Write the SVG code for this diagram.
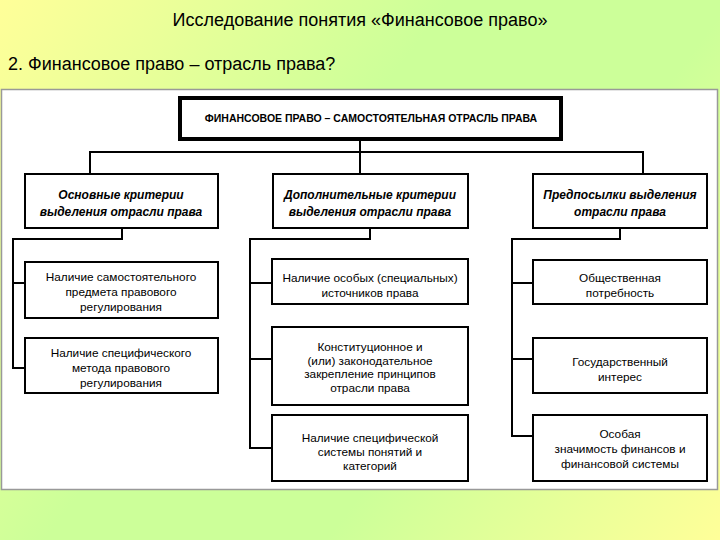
<svg xmlns="http://www.w3.org/2000/svg" width="720" height="540" viewBox="0 0 720 540">
<defs>
<linearGradient id="bg" gradientUnits="userSpaceOnUse" x1="0" y1="0" x2="720" y2="540">
<stop offset="0" stop-color="#ffff99"/>
<stop offset="0.4" stop-color="#ccff99"/>
<stop offset="0.65" stop-color="#ccff99"/>
<stop offset="1" stop-color="#ffff99"/>
</linearGradient>
<style>
.t{font-family:"Liberation Sans",Arial,sans-serif;fill:#000}
.title{font-size:18px}
.box{fill:#fff;stroke:#000;stroke-width:2}
.top{fill:#fff;stroke:#000;stroke-width:4}
.h{font-family:"Liberation Sans",Arial,sans-serif;font-size:10.5px;font-weight:bold;text-anchor:middle}
.l2{font-family:"Liberation Sans",Arial,sans-serif;font-size:12px;font-weight:bold;font-style:italic;text-anchor:middle}
.l3{font-family:"Liberation Sans",Arial,sans-serif;font-size:11.8px;text-anchor:middle}
.c{fill:none;stroke:#000;stroke-width:2}
</style>
</defs>
<rect x="0" y="0" width="720" height="540" fill="url(#bg)"/>
<text class="t title" x="360" y="26" text-anchor="middle">Исследование понятия «Финансовое право»</text>
<text class="t title" x="8" y="70">2. Финансовое право – отрасль права?</text>
<rect x="1.5" y="89.5" width="716" height="400" fill="#fff" stroke="#999" stroke-width="1.5"/>

<g id="connectors">
<path class="c" d="M360 141V173M90 173V152H643V173"/>
<path class="c" d="M122 228V239H13V368H24M13 283H24"/>
<path class="c" d="M370 228V239H250V448H272M250 283H272M250 359H272"/>
<path class="c" d="M620 228V239H512V436H533M512 283H533M512 359H533"/>
</g>

<g id="root">
<rect class="top" x="180" y="98" width="381" height="41"/>
<text class="h" x="371" y="122">ФИНАНСОВОЕ ПРАВО – САМОСТОЯТЕЛЬНАЯ ОТРАСЛЬ ПРАВА</text>
</g>

<g id="basic">
<rect class="box" x="25" y="174" width="193" height="54"/>
<text class="l2" x="121" y="199">Основные критерии</text>
<text class="l2" x="121" y="216">выделения отрасли права</text>
</g>
<g id="additional">
<rect class="box" x="273" y="174" width="195" height="54"/>
<text class="l2" x="370" y="199">Дополнительные критерии</text>
<text class="l2" x="370" y="216">выделения отрасли права</text>
</g>
<g id="prereq">
<rect class="box" x="533" y="174" width="174" height="54"/>
<text class="l2" x="620" y="199">Предпосылки выделения</text>
<text class="l2" x="620" y="216">отрасли права</text>
</g>

<g id="subject">
<rect class="box" x="25" y="262" width="193" height="56"/>
<text class="l3" x="121" y="281">Наличие самостоятельного</text>
<text class="l3" x="121" y="296">предмета правового</text>
<text class="l3" x="121" y="311">регулирования</text>
</g>
<g id="method">
<rect class="box" x="25" y="338" width="193" height="55"/>
<text class="l3" x="121" y="357">Наличие специфического</text>
<text class="l3" x="121" y="372">метода правового</text>
<text class="l3" x="121" y="387">регулирования</text>
</g>

<g id="sources">
<rect class="box" x="272" y="259" width="196" height="45"/>
<text class="l3" x="370" y="282">Наличие особых (специальных)</text>
<text class="l3" x="370" y="297">источников права</text>
</g>
<g id="principles">
<rect class="box" x="272" y="327" width="196" height="78"/>
<text class="l3" x="370" y="351">Конституционное и</text>
<text class="l3" x="370" y="364.5">(или) законодательное</text>
<text class="l3" x="370" y="378">закрепление принципов</text>
<text class="l3" x="370" y="391.5">отрасли права</text>
</g>
<g id="concepts">
<rect class="box" x="272" y="415" width="196" height="66"/>
<text class="l3" x="370" y="442">Наличие специфической</text>
<text class="l3" x="370" y="456">системы понятий и</text>
<text class="l3" x="370" y="470">категорий</text>
</g>

<g id="need">
<rect class="box" x="533" y="260" width="174" height="44"/>
<text class="l3" x="620" y="282">Общественная</text>
<text class="l3" x="620" y="297">потребность</text>
</g>
<g id="interest">
<rect class="box" x="533" y="338" width="174" height="55"/>
<text class="l3" x="620" y="366">Государственный</text>
<text class="l3" x="620" y="381">интерес</text>
</g>
<g id="significance">
<rect class="box" x="533" y="415" width="174" height="66"/>
<text class="l3" x="620" y="438">Особая</text>
<text class="l3" x="620" y="453">значимость финансов и</text>
<text class="l3" x="620" y="468">финансовой системы</text>
</g>
</svg>
